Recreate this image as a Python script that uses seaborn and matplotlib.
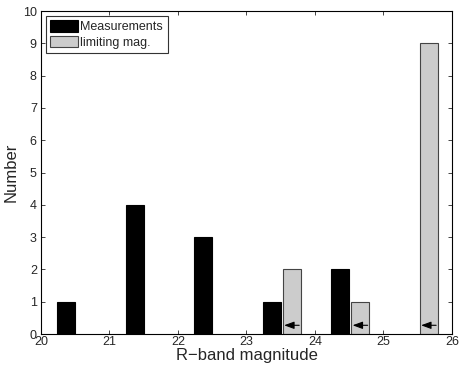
import matplotlib
matplotlib.use("Agg")
import matplotlib.pyplot as plt
import seaborn as sns
import pandas as pd

# данные: положение столбцов (звёздная величина) и количество
meas_mag = [20.37, 21.37, 22.37, 23.37, 24.37]
meas_count = [1, 4, 3, 1, 2]
lim_mag = [23.66, 24.66, 25.66]
lim_count = [2, 1, 9]

x_ticks = [20, 21, 22, 23, 24, 25, 26]
y_ticks = list(range(0, 11))

sns.set_style("ticks")
plt.rcParams["font.family"] = ["Liberation Sans", "DejaVu Sans"]
plt.rcParams.update({
    "xtick.direction": "in",
    "ytick.direction": "in",
    "xtick.top": True,
    "ytick.right": True,
    "axes.edgecolor": "black",
    "axes.linewidth": 0.8,
})

df_meas = pd.DataFrame({"mag": meas_mag, "count": meas_count})
df_lim = pd.DataFrame({"mag": lim_mag, "count": lim_count})

fig = plt.figure(figsize=(4.63, 3.71), dpi=100)
ax = fig.add_axes([0.0886, 0.0997, 0.8874, 0.8706])

sns.barplot(data=df_meas, x="mag", y="count", native_scale=True, width=0.26,
            color="black", edgecolor="black", linewidth=0.8, saturation=1,
            label="Measurements", ax=ax)
sns.barplot(data=df_lim, x="mag", y="count", native_scale=True, width=0.26,
            color="#cccccc", edgecolor="#444444", linewidth=0.8, saturation=1,
            label="limiting mag.", ax=ax)

# стрелки "верхний предел" внутри серых столбцов
for m in lim_mag:
    ax.annotate("", xy=(m - 0.11, 0.27), xytext=(m + 0.11, 0.27),
                arrowprops=dict(arrowstyle="-|>,head_length=0.6,head_width=0.22",
                                color="black", lw=0.8, shrinkA=0, shrinkB=0))

ax.set_xlim(20, 26)
ax.set_ylim(0, 10)
ax.set_xticks(x_ticks)
ax.set_yticks(y_ticks)
ax.tick_params(labelsize=9, length=3, width=0.6)
ax.tick_params(axis="x", pad=1.5)
ax.tick_params(axis="y", pad=3)
ax.set_xlabel("R\u2212band magnitude", fontsize=12, labelpad=0)
ax.set_ylabel("Number", fontsize=12, labelpad=3)

leg = ax.legend(loc="upper left", fontsize=9, frameon=True, fancybox=False,
                edgecolor="#333333", framealpha=1, borderpad=0.35,
                handlelength=2.2, handleheight=1.0, handletextpad=0.2,
                labelspacing=0.2, borderaxespad=0.4)
leg.get_frame().set_linewidth(0.8)

fig.savefig("out.png", dpi=100)
